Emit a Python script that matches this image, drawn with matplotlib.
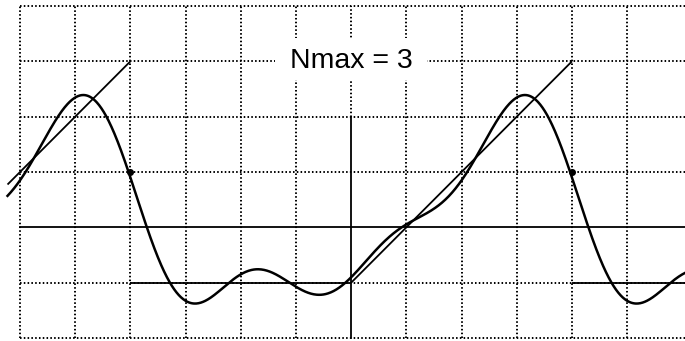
import numpy as np
import matplotlib
matplotlib.use("Agg")
import matplotlib.pyplot as plt
from matplotlib.patches import Rectangle

# ---- data -------------------------------------------------------------
# Fourier partial sum (Nmax = 3) of f(x) = 0 on (-pi, 0), x on (0, pi)
mean_level = 0.785                      # a0/2
harmonics = [1, 2, 3]
cos_coeffs = [-0.637, 0.0, -0.071]
sin_coeffs = [1.0, -0.5, 0.333]
curve_x_range = [-4.89, 4.75]

# target (periodic) function, drawn as straight segments
ramp_left_x = [-4.89, -3.1416]
ramp_left_y = [1.393, 3.1416]
flat_left_x = [-3.1416, 0.0]
flat_left_y = [0.0, 0.0]
ramp_right_x = [0.0, 3.1416]
ramp_right_y = [0.0, 3.1416]
flat_right_x = [3.1416, 4.75]
flat_right_y = [0.0, 0.0]

# convergence points at the jumps
jump_x = [-3.1416, 3.1416]
jump_y = [1.5708, 1.5708]

title_text = "Nmax = 3"

# ---- figure -----------------------------------------------------------
fig = plt.figure(figsize=(6.85, 3.41), dpi=100)
ax = fig.add_axes([0, 0, 1, 1])
ax.set_xlim(-4.997, 4.750)
ax.set_ylim(-0.828, 4.012)
ax.axis("off")

c = np.pi / 4
right_end = 4.75
dot = dict(color="black", lw=1.4, linestyle=(0, (0.8, 1.15)),
           dash_capstyle="butt", zorder=1)

# dotted grid
for k in range(-6, 6):
    if k == 0:
        ax.plot([0, 0], [3 * c, 5 * c], **dot)
    else:
        ax.plot([k * c, k * c], [-c, 5 * c], **dot)
for j in range(-1, 6):
    if j == 1:
        continue
    ax.plot([-6 * c, right_end], [j * c, j * c], **dot)

# solid axis line and mean level
ax.plot([0, 0], [-c, 3 * c], color="black", lw=1.3, zorder=3)
ax.plot([-6 * c, right_end], [mean_level, mean_level], color="black", lw=1.3, zorder=3)

# target function
for sx, sy in [(ramp_left_x, ramp_left_y), (flat_left_x, flat_left_y),
               (ramp_right_x, ramp_right_y), (flat_right_x, flat_right_y)]:
    ax.plot(sx, sy, color="black", lw=1.3, zorder=3, solid_capstyle="butt")

# partial sum curve
x = np.linspace(curve_x_range[0], curve_x_range[1], 1200)
y = np.full_like(x, mean_level)
for n, a, b in zip(harmonics, cos_coeffs, sin_coeffs):
    y += a * np.cos(n * x) + b * np.sin(n * x)
ax.plot(x, y, color="black", lw=1.8, zorder=4)

ax.plot(jump_x, jump_y, "o", color="black", ms=4, zorder=5)

# label with white background hiding the grid
ax.add_patch(Rectangle((-1.08, 2.87), 2.16, 0.6, facecolor="white",
                       edgecolor="none", zorder=2))
ax.text(0, np.pi, title_text, ha="center", va="center", fontsize=20.5,
        family=["Liberation Sans", "DejaVu Sans"], color="black", zorder=6)

fig.savefig("out.png", dpi=100, facecolor="white")
